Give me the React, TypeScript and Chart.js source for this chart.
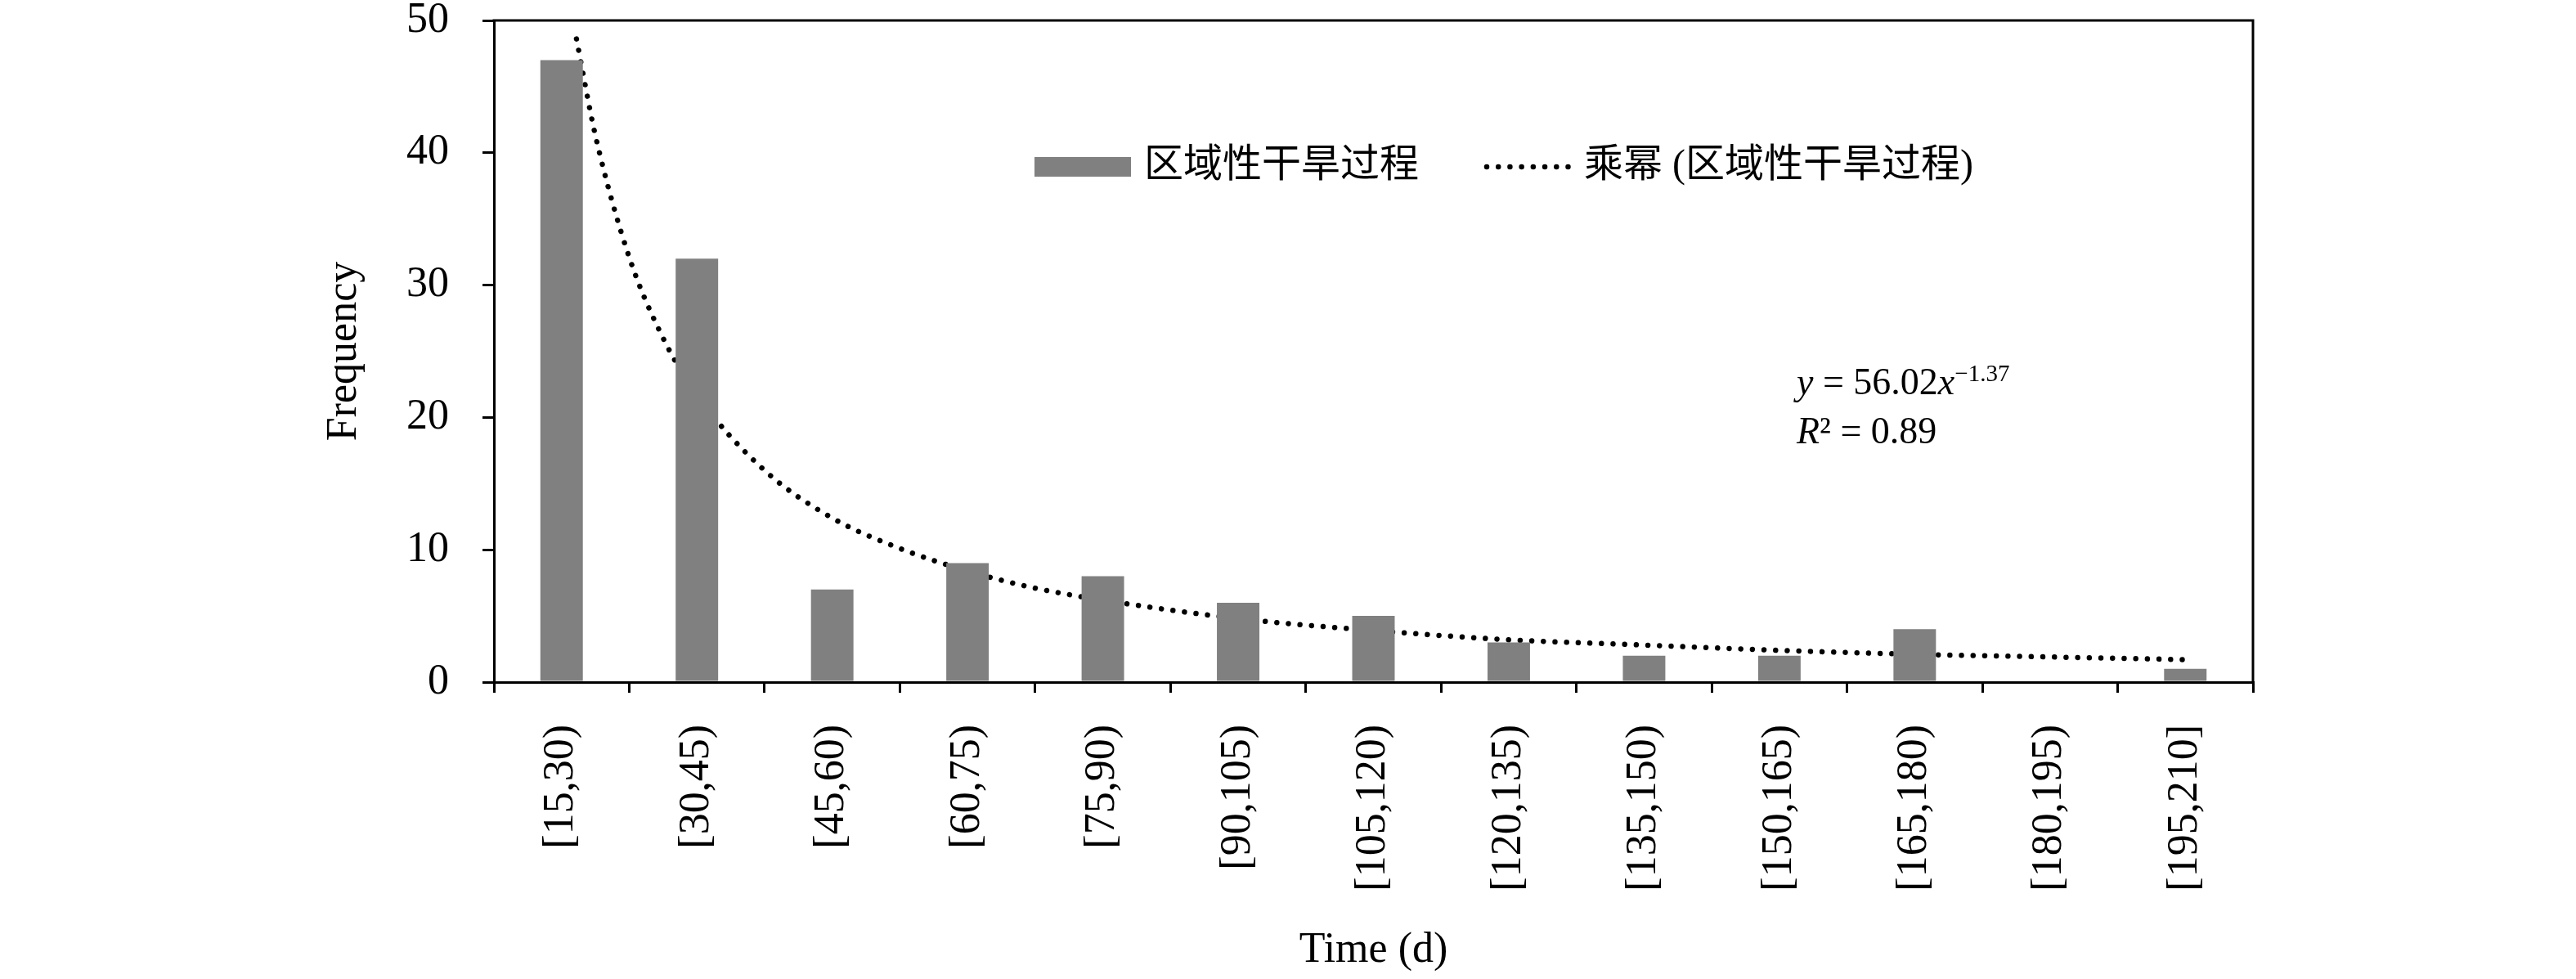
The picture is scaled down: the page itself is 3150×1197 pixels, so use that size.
import React, { useEffect, useRef } from 'react';
import { Chart, registerables } from 'chart.js';

Chart.register(...registerables);

const categories = ['[15,30)', '[30,45)', '[45,60)', '[60,75)', '[75,90)', '[90,105)', '[105,120)', '[120,135)', '[135,150)', '[150,165)', '[165,180)', '[180,195)', '[195,210]'];
const frequency = [47, 32, 7, 9, 8, 6, 5, 3, 2, 2, 4, 0, 1];
// power trend line at these category positions (1 = first bin)
const trendX = [1.11, 1.25, 1.5, 1.75, 2, 2.5, 3, 3.5, 4, 4.5, 5, 6, 7, 8, 9, 10, 11, 12, 13];
const trendY = [48.6, 41.3, 32.1, 26.0, 21.7, 16.0, 12.4, 10.1, 8.4, 7.1, 6.2, 4.8, 3.9, 3.2, 2.8, 2.4, 2.1, 1.9, 1.7];
const yTicks = [0, 10, 20, 30, 40, 50];

const barLabel = '区域性干旱过程';
const trendLabel = '乘幂 (区域性干旱过程)';
const xTitle = 'Time (d)';
const yTitle = 'Frequency';
const eqCoef = '56.02';
const eqExp = '\u22121.37';
const eqR2 = '0.89';

const SERIF = "'Liberation Serif', 'Times New Roman', 'Noto Sans CJK SC', serif";
const BAR_COLOR = '#808080';
const DOT_DASH = [0.01, 14.2];
const DOT_SIZE = 6.5;

const overlayPlugin = {
  id: 'overlay',
  afterDraw(chart: any) {
    const { ctx, chartArea: a } = chart;
    ctx.save();
    // top and right frame
    ctx.strokeStyle = '#000';
    ctx.lineWidth = 3;
    ctx.setLineDash([]);
    ctx.beginPath();
    ctx.moveTo(a.left - 1.5, a.top);
    ctx.lineTo(a.right, a.top);
    ctx.lineTo(a.right, a.bottom);
    ctx.stroke();

    // legend
    const ly = 204;
    ctx.fillStyle = BAR_COLOR;
    ctx.fillRect(1265, 192, 118, 24);
    ctx.fillStyle = '#000';
    ctx.font = `48px ${SERIF}`;
    ctx.textBaseline = 'middle';
    ctx.textAlign = 'left';
    ctx.fillText(barLabel, 1399, ly - 1);

    ctx.save();
    ctx.strokeStyle = '#000';
    ctx.lineWidth = DOT_SIZE;
    ctx.lineCap = 'round';
    ctx.setLineDash(DOT_DASH);
    ctx.beginPath();
    ctx.moveTo(1818, ly);
    ctx.lineTo(1920, ly);
    ctx.stroke();
    ctx.restore();
    ctx.fillText(trendLabel, 1937, ly - 1);

    // equation
    ctx.textBaseline = 'alphabetic';
    let x = 2197;
    const b1 = 482;
    const draw = (t: string, font: string, y: number) => {
      ctx.font = font;
      ctx.fillText(t, x, y);
      x += ctx.measureText(t).width;
    };
    draw('y', `italic 46px ${SERIF}`, b1);
    draw(' = ' + eqCoef, `46px ${SERIF}`, b1);
    draw('x', `italic 46px ${SERIF}`, b1);
    draw(eqExp, `29px ${SERIF}`, b1 - 16);
    x = 2197;
    const b2 = 542;
    draw('R', `italic 46px ${SERIF}`, b2);
    draw('\u00B2 = ' + eqR2, `46px ${SERIF}`, b2);
    ctx.restore();
  },
};

export default function App() {
  const ref = useRef<HTMLCanvasElement>(null);
  useEffect(() => {
    const canvas = ref.current;
    if (!canvas) return;
    const chart = new Chart(canvas, {
      type: 'bar',
      data: {
        labels: categories,
        datasets: [
          {
            type: 'bar',
            label: barLabel,
            data: frequency,
            backgroundColor: BAR_COLOR,
            borderWidth: 0,
            barPercentage: 0.314,
            categoryPercentage: 1,
            grouped: false,
            order: 1,
            xAxisID: 'x',
            yAxisID: 'y',
          } as any,
          {
            type: 'line',
            label: trendLabel,
            data: trendX.map((v, i) => ({ x: v, y: trendY[i] })),
            xAxisID: 'xTrend',
            yAxisID: 'y',
            borderColor: '#000',
            borderWidth: DOT_SIZE,
            borderDash: DOT_DASH,
            borderCapStyle: 'round',
            pointRadius: 0,
            cubicInterpolationMode: 'monotone',
            fill: false,
            order: 2,
          } as any,
        ],
      },
      options: {
        responsive: false,
        devicePixelRatio: 1,
        animation: false,
        layout: { padding: { top: 25, right: 395, left: 0, bottom: 0 } },
        plugins: {
          legend: { display: false },
          tooltip: { enabled: false },
        },
        scales: {
          x: {
            type: 'category',
            offset: true,
            grid: {
              offset: true,
              drawOnChartArea: false,
              drawTicks: true,
              tickLength: 13,
              tickWidth: 3,
              tickColor: '#000',
              lineWidth: 3,
              color: '#000',
            },
            border: { display: true, color: '#000', width: 3 },
            ticks: {
              color: '#000',
              font: { family: SERIF, size: 52 },
              minRotation: 90,
              maxRotation: 90,
              autoSkip: false,
              padding: 39,
            },
            title: {
              display: true,
              text: xTitle,
              color: '#000',
              font: { family: SERIF, size: 52, lineHeight: 1 },
              padding: { top: 0, bottom: 9 },
            },
            afterFit: (s: any) => {
              s.height = 363;
              s.paddingLeft = 0;
              s.paddingRight = 0;
            },
          },
          xTrend: {
            type: 'linear',
            axis: 'x',
            position: 'bottom',
            display: false,
            offset: false,
            grid: { offset: false },
            min: 0.5,
            max: 13.5,
          },
          y: {
            type: 'linear',
            min: 0,
            max: 50,
            afterBuildTicks: (s: any) => {
              s.ticks = yTicks.map((v) => ({ value: v }));
            },
            grid: {
              drawOnChartArea: false,
              drawTicks: true,
              tickLength: 14,
              tickWidth: 3,
              tickColor: '#000',
              lineWidth: 3,
              color: '#000',
            },
            border: { display: true, color: '#000', width: 3 },
            ticks: {
              color: '#000',
              font: { family: SERIF, size: 52, lineHeight: 0.9 },
              padding: 41,
            },
            title: {
              display: true,
              text: yTitle,
              color: '#000',
              font: { family: SERIF, size: 52, lineHeight: 1 },
              padding: { top: 395, bottom: 0 },
            },
            afterFit: (s: any) => {
              s.width = 604;
              s.paddingTop = 0;
              s.paddingBottom = 0;
            },
          },
        } as any,
      },
      plugins: [overlayPlugin],
    });
    return () => chart.destroy();
  }, []);
  return (
    <div style={{ position: 'absolute', left: 0, top: 0, width: 3150, height: 1197, background: '#fff' }}>
      <canvas ref={ref} width={3150} height={1197} style={{ width: 3150, height: 1197, display: 'block' }} />
    </div>
  );
}
